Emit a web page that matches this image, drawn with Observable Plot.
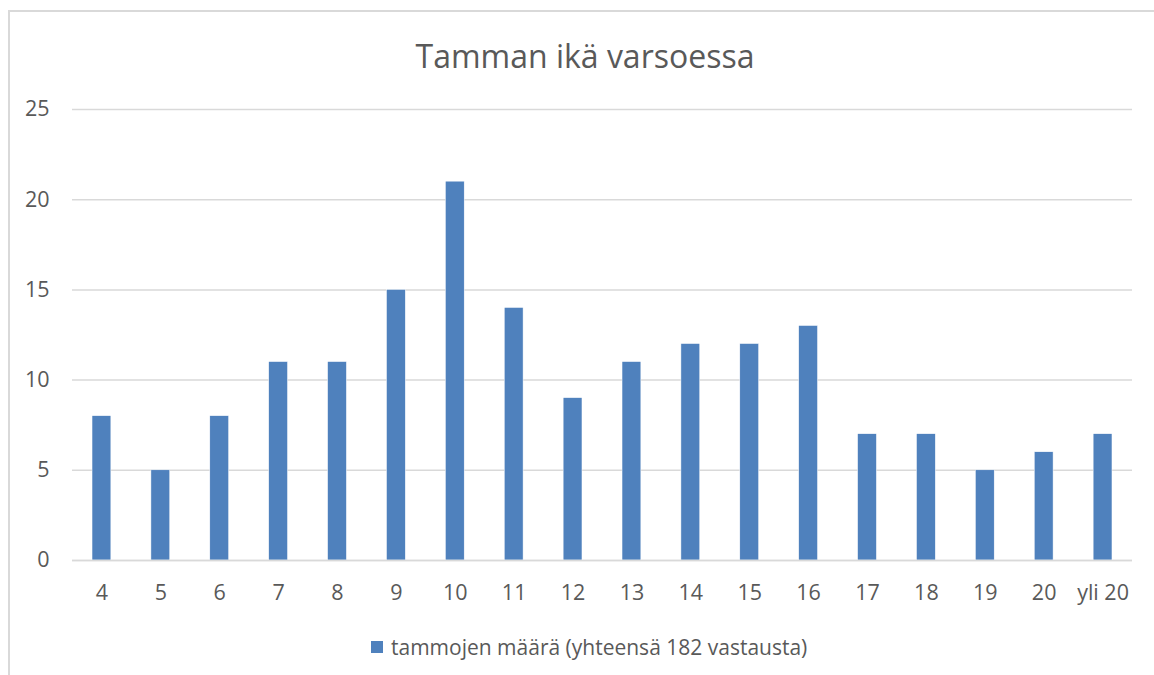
<!DOCTYPE html>
<html>
<head>
<meta charset="utf-8">
<script src="https://cdn.jsdelivr.net/npm/d3@7"></script>
<script src="https://cdn.jsdelivr.net/npm/@observablehq/plot@0.6"></script>
<style>
  html, body { margin: 0; padding: 0; background: #fff; }
  body { width: 1154px; height: 675px; position: relative; overflow: hidden; font-family: "Open Sans", sans-serif; color: #595959; }
  #frame { position: absolute; left: 8px; top: 10px; width: 1200px; height: 700px; border-left: 2px solid #d9d9d9; border-top: 2px solid #d9d9d9; }
  #title { position: absolute; left: 0; width: 1170px; top: 34px; text-align: center; font-size: 32px; line-height: 44px; color: #595959; }
  #chart { position: absolute; left: 0; top: 90px; }
  #legend { position: absolute; top: 632px; left: 371px; font-size: 21px; line-height: 30px; color: #595959; display: flex; align-items: center; white-space: nowrap; }
  #legend .sw { width: 12px; height: 12px; background: #4f81bd; margin-right: 8px; }
</style>
</head>
<body>
<div id="frame"></div>
<div id="title">Tamman ikä varsoessa</div>
<div id="chart"></div>
<div id="legend"><span class="sw"></span><span>tammojen määrä (yhteensä 182 vastausta)</span></div>
<script>
const categories = ["4","5","6","7","8","9","10","11","12","13","14","15","16","17","18","19","20","yli 20"];
const counts = [8,5,8,11,11,15,21,14,9,11,12,12,13,7,7,5,6,7];
const yTicks = [0,5,10,15,20,25];
const seriesName = "tammojen määrä (yhteensä 182 vastausta)";

const data = categories.map((c, i) => ({category: c, value: counts[i]}));

const plot = Plot.plot({
  width: 1154,
  height: 530,
  marginTop: 19,
  marginBottom: 60,
  marginLeft: 72,
  marginRight: 22,
  style: {fontFamily: "'Open Sans', sans-serif", fontSize: "21.5px", color: "#595959", background: "transparent"},
  x: {domain: categories, paddingInner: 0.68, paddingOuter: 0.34, round: false, label: null},
  y: {domain: [0, 25], label: null},
  marks: [
    Plot.gridY(yTicks, {stroke: "#d9d9d9", strokeOpacity: 1, strokeWidth: 1.5}),
    Plot.barY(data, {x: "category", y: "value", fill: "#4f81bd", stroke: "#ffffff", strokeWidth: 0.5}),
    Plot.ruleY([0], {stroke: "#d9d9d9", strokeWidth: 1.5}),
    Plot.axisY(yTicks, {tickSize: 0, tickPadding: 23, fill: "#595959", fontSize: 21.5, label: null}),
    Plot.axisX({tickSize: 0, tickPadding: 24, fill: "#595959", fontSize: 21.5, label: null})
  ]
});
document.getElementById("chart").appendChild(plot);
</script>
</body>
</html>
